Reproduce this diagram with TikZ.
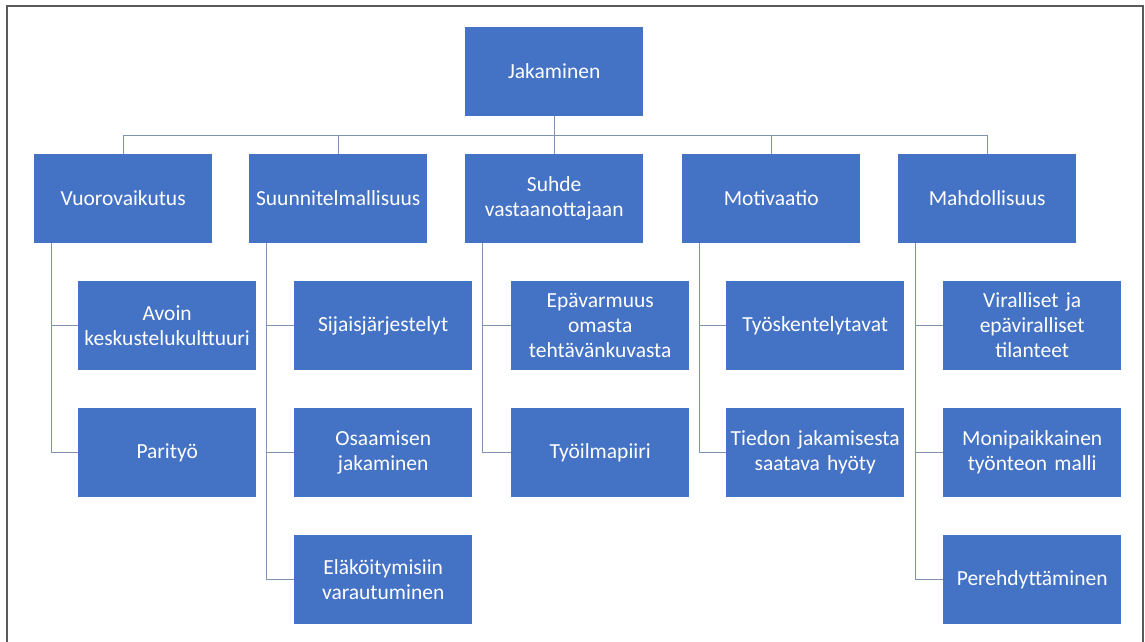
\documentclass[tikz,border=0pt]{standalone}
\usepackage{fontspec}
\setmainfont{Carlito}
\definecolor{boxblue}{HTML}{4472C4}
\definecolor{connc}{HTML}{7F93B3}
\definecolor{framec}{HTML}{5A5A5A}
\begin{document}
\begin{tikzpicture}[x=1pt,y=-1pt,
  box/.style={draw=none,fill=boxblue,text=white,anchor=north west,
    minimum width=178pt,minimum height=88.5pt,inner sep=0pt,
    text width=176pt,align=center,
    font=\fontsize{21.5}{25}\selectfont},
  conn/.style={draw=connc,line width=1.1pt},
  frm/.style={draw=framec,line width=2pt}]
\useasboundingbox (0,0) rectangle (1145,642);
\draw[frm] (7,660) -- (7,6) -- (1143,6) -- (1143,660);

\node[box] (root) at (465,27) {Jakaminen};

\node[box] (a) at (34,154)  {Vuorovaikutus};
\node[box] (b) at (249,154) {Suunnitelmallisuus};
\node[box] (c) at (465,154) {Suhde\\vastaanottajaan};
\node[box] (d) at (682,154) {Motivaatio};
\node[box] (e) at (898,154) {Mahdollisuus};

\node[box] (a1) at (78,281)  {Avoin\\keskustelukulttuuri};
\node[box] (a2) at (78,408)  {Parityö};

\node[box] (b1) at (294,281) {Sijaisjärjestelyt};
\node[box] (b2) at (294,408) {Osaamisen\\jakaminen};
\node[box] (b3) at (294,535) {Eläköitymisiin\\varautuminen};

\node[box] (c1) at (511,281) {Epävarmuus\\omasta\\tehtävänkuvasta};
\node[box] (c2) at (511,408) {Työilmapiiri};

\node[box] (d1) at (726,281) {Työskentelytavat};
\node[box] (d2) at (726,408) {Tiedon jakamisesta\\saatava hyöty};

\node[box] (e1) at (943,281) {Viralliset ja\\epäviralliset\\tilanteet};
\node[box] (e2) at (943,408) {Monipaikkainen\\työnteon malli};
\node[box] (e3) at (943,535) {Perehdyttäminen};

\coordinate (bus) at ([yshift=-20pt]root.south);
\draw[conn] (root.south) -- (bus);
\foreach \n in {a,b,c,d,e}{
  \draw[conn] (bus) -| (\n.north);
}
\foreach \p/\c in {a/a1,a/a2,b/b1,b/b2,b/b3,c/c1,c/c2,d/d1,d/d2,e/e1,e/e2,e/e3}{
  \draw[conn] ([xshift=17.5pt]\p.south west) |- (\c.west);
}
\end{tikzpicture}
\end{document}
